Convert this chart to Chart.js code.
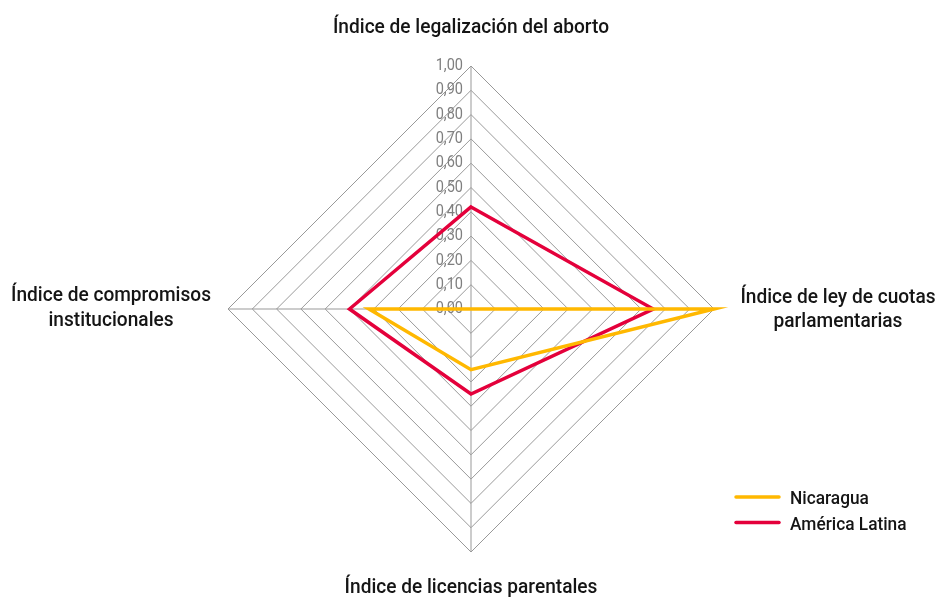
<!DOCTYPE html>
<html><head><meta charset="utf-8">
<style>html,body{margin:0;padding:0;background:#fff;}#wrap{width:938px;height:601px;}</style>
<script src="https://cdn.jsdelivr.net/npm/chart.js@4.4.0/dist/chart.umd.min.js"></script>
</head><body><div id="wrap"><canvas id="c" width="938" height="601"></canvas></div>
<script>
// ---- data ----
const categories = [
  ['Índice de legalización del aborto'],
  ['Índice de ley de cuotas', 'parlamentarias'],
  ['Índice de licencias parentales'],
  ['Índice de compromisos', 'institucionales']
];
const seriesNames = ['Nicaragua', 'América Latina'];
const nicaragua = [0.00, 1.00, 0.25, 0.42];
const americaLatina = [0.42, 0.75, 0.35, 0.50];
const tickLabels = ['0,00','0,10','0,20','0,30','0,40','0,50','0,60','0,70','0,80','0,90','1,00'];

// ---- style ----
const YELLOW = '#FFB800';
const RED = '#E4003B';
const GRID = '#999999';
const FONT = 'Roboto, "Noto Sans", sans-serif';
const CONDENSE = 0.91;

function condensedText(ctx, text, x, y, k) {
  ctx.save();
  ctx.translate(x, y);
  ctx.scale(k, 1);
  ctx.fillText(text, 0, 0);
  ctx.restore();
}

// label placement per axis index: distance beyond radius, and baseline offsets of each line
const labelPlace = [
  {extra: 33, dy: [0]},
  {extra: 124, dy: [-6, 18]},
  {extra: 41, dy: [0]},
  {extra: 117, dy: [-8, 17]}
];

const textPlugin = {
  id: 'textPlugin',
  beforeDatasetsDraw(chart) {
    const s = chart.scales.r;
    const ctx = chart.ctx;
    ctx.save();
    ctx.fillStyle = '#7f7f7f';
    ctx.font = '16.5px ' + FONT;
    ctx.textAlign = 'right';
    ctx.textBaseline = 'middle';
    s.ticks.forEach((t, i) => {
      const d = s.getDistanceFromCenterForValue(t.value);
      condensedText(ctx, tickLabels[i], s.xCenter - 8, s.yCenter - d, 0.88);
    });
    ctx.restore();
  },
  afterDraw(chart) {
    const s = chart.scales.r;
    const ctx = chart.ctx;
    ctx.save();
    ctx.fillStyle = '#151515';
    ctx.font = '500 21px ' + FONT;
    ctx.textAlign = 'center';
    ctx.textBaseline = 'alphabetic';
    chart.data.labels.forEach((lab, i) => {
      const p = s.getPointPosition(i, s.drawingArea + labelPlace[i].extra);
      lab.forEach((line, j) => {
        condensedText(ctx, line, p.x, p.y + labelPlace[i].dy[j], CONDENSE);
      });
    });
    // legend
    const x0 = chart.width - 202, y0 = chart.height - 104;
    ctx.font = '500 19px ' + FONT;
    ctx.textAlign = 'left';
    ctx.textBaseline = 'alphabetic';
    chart.data.datasets.forEach((ds, i) => {
      const y = y0 + i * 25.6;
      ctx.strokeStyle = ds.borderColor;
      ctx.lineWidth = 3.5;
      ctx.lineCap = 'round';
      ctx.beginPath();
      ctx.moveTo(x0, y);
      ctx.lineTo(x0 + 43, y);
      ctx.stroke();
      ctx.fillStyle = '#151515';
      condensedText(ctx, ds.label, x0 + 54, y + 7, CONDENSE);
    });
    ctx.restore();
  }
};

new Chart(document.getElementById('c'), {
  type: 'radar',
  data: {
    labels: categories,
    datasets: [
      {label: seriesNames[0], data: nicaragua, borderColor: YELLOW, backgroundColor: 'transparent', borderWidth: 3.5, pointRadius: 0, pointHoverRadius: 0, fill: false, tension: 0},
      {label: seriesNames[1], data: americaLatina, borderColor: RED, backgroundColor: 'transparent', borderWidth: 3.5, pointRadius: 0, pointHoverRadius: 0, fill: false, tension: 0}
    ]
  },
  options: {
    responsive: false,
    devicePixelRatio: 1,
    animation: false,
    layout: {padding: {left: 4, right: 0, top: 66, bottom: 49}},
    plugins: {legend: {display: false}, tooltip: {enabled: false}},
    elements: {line: {borderJoinStyle: 'miter'}},
    scales: {
      r: {
        min: 0, max: 1,
        startAngle: 0,
        ticks: {display: false, stepSize: 0.1},
        grid: {color: GRID, lineWidth: 1, circular: false},
        angleLines: {color: GRID, lineWidth: 1},
        pointLabels: {display: false}
      }
    }
  },
  plugins: [textPlugin]
});
</script></body></html>
